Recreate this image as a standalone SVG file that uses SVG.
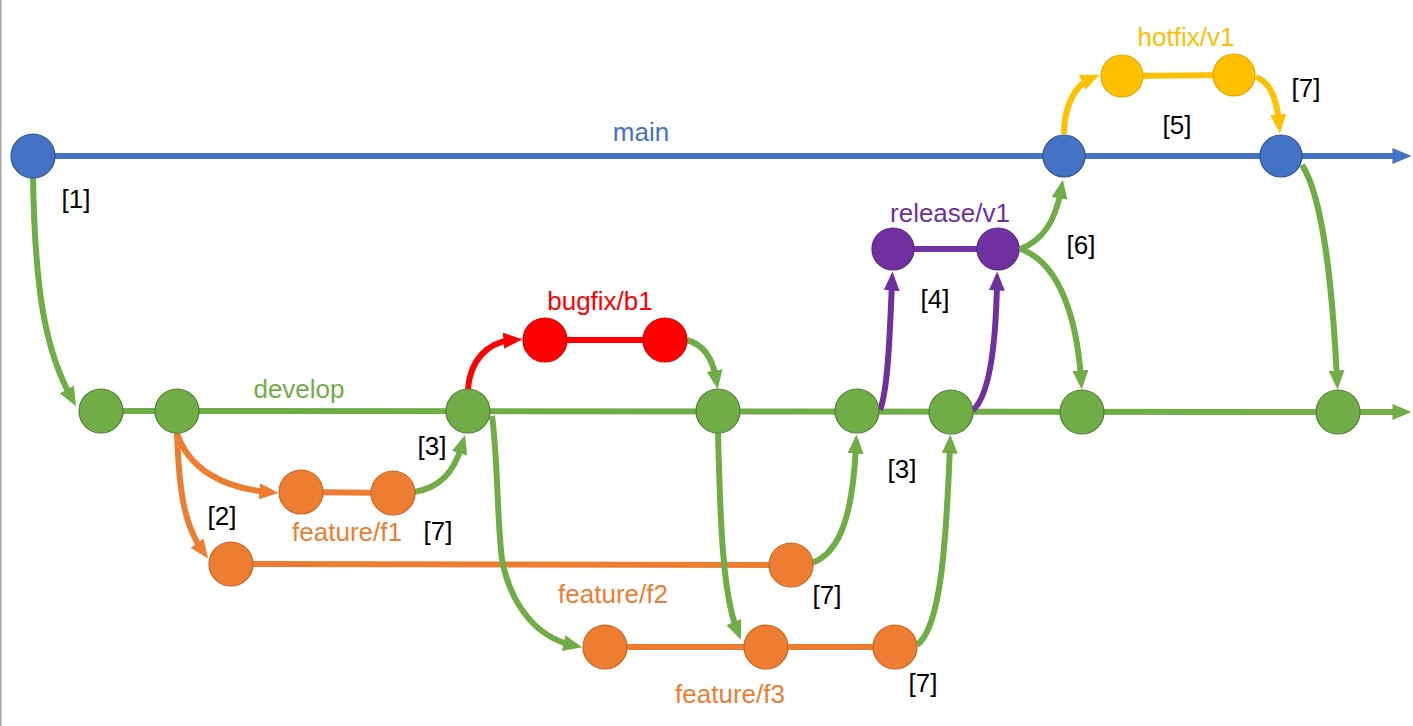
<svg xmlns="http://www.w3.org/2000/svg" width="1413" height="726" viewBox="0 0 1413 726">
<style>
.ln{fill:none;stroke-width:6;stroke-linecap:butt}
.b{stroke:#4472C4}.g{stroke:#70AD47}.o{stroke:#ED7D31}.r{stroke:#FF0000}.p{stroke:#7030A0}.y{stroke:#FFC000}
.nb{fill:#4472C4;stroke:#2F528F;stroke-width:1.2}
.ng{fill:#70AD47;stroke:#507E32;stroke-width:1.2}
.no{fill:#ED7D31;stroke:#C9651F;stroke-width:1.2}
.nr{fill:#FF0000;stroke:#D00000;stroke-width:1.2}
.np{fill:#7030A0;stroke:#5A2680;stroke-width:1.2}
.ny{fill:#FFC000;stroke:#E0A800;stroke-width:1.2}
text{font-family:"Liberation Sans",Arial,sans-serif;font-size:26px;text-anchor:middle}
.k{fill:#000}
</style>
<defs>
<marker id="ab" viewBox="0 0 10 10" preserveAspectRatio="none" refX="4.5" refY="5" markerWidth="19" markerHeight="16" markerUnits="userSpaceOnUse" orient="auto"><path d="M0,0L10,5L0,10z" fill="#4472C4"/></marker>
<marker id="ag" viewBox="0 0 10 10" preserveAspectRatio="none" refX="4.5" refY="5" markerWidth="19" markerHeight="16" markerUnits="userSpaceOnUse" orient="auto"><path d="M0,0L10,5L0,10z" fill="#70AD47"/></marker>
<marker id="ao" viewBox="0 0 10 10" preserveAspectRatio="none" refX="4.5" refY="5" markerWidth="19" markerHeight="16" markerUnits="userSpaceOnUse" orient="auto"><path d="M0,0L10,5L0,10z" fill="#ED7D31"/></marker>
<marker id="ar" viewBox="0 0 10 10" preserveAspectRatio="none" refX="4.5" refY="5" markerWidth="19" markerHeight="16" markerUnits="userSpaceOnUse" orient="auto"><path d="M0,0L10,5L0,10z" fill="#FF0000"/></marker>
<marker id="ap" viewBox="0 0 10 10" preserveAspectRatio="none" refX="4.5" refY="5" markerWidth="19" markerHeight="16" markerUnits="userSpaceOnUse" orient="auto"><path d="M0,0L10,5L0,10z" fill="#7030A0"/></marker>
<marker id="ay" viewBox="0 0 10 10" preserveAspectRatio="none" refX="4.5" refY="5" markerWidth="19" markerHeight="16" markerUnits="userSpaceOnUse" orient="auto"><path d="M0,0L10,5L0,10z" fill="#FFC000"/></marker>
</defs>
<rect x="0" y="0" width="1413" height="726" fill="#fff"/>
<line x1="0.75" y1="0" x2="0.75" y2="726" stroke="#a6a6a6" stroke-width="1.5"/>
<g id="connectors">
<path class="ln b" d="M55,156 L1401,156" marker-end="url(#ab)"/>
<path class="ln g" d="M101,411 L1401,412" marker-end="url(#ag)"/>
<path class="ln y" d="M1122,76 L1234,75"/>
<path class="ln p" d="M893,249 L998,249"/>
<path class="ln r" d="M545,340 L665,340"/>
<path class="ln o" d="M301,492 L393,493"/>
<path class="ln o" d="M231,564 L791,565"/>
<path class="ln o" d="M605,647 L895,647"/>
<path class="ln g" d="M33,178 C35,290 45,350 71,397" marker-end="url(#ag)"/>
<path class="ln o" d="M177,433 C188,468 222,488 268,492" marker-end="url(#ao)"/>
<path class="ln o" d="M177,433 C179,490 184,525 202,550" marker-end="url(#ao)"/>
<path class="ln g" d="M414,492 C440,488 454,472 462,445" marker-end="url(#ag)"/>
<path class="ln r" d="M468,389 C470,360 488,342 512,340" marker-end="url(#ar)"/>
<path class="ln g" d="M687,340 C705,345 713,360 716,379" marker-end="url(#ag)"/>
<path class="ln g" d="M492,416 C498,460 497,520 502,560 C512,610 540,638 572,645" marker-end="url(#ag)"/>
<path class="ln g" d="M718,433 C720,500 721,590 737,630" marker-end="url(#ag)"/>
<path class="ln g" d="M812,563 C842,552 853,510 856,445" marker-end="url(#ag)"/>
<path class="ln g" d="M917,645 C940,628 946,550 950,445" marker-end="url(#ag)"/>
<path class="ln p" d="M880,410 C888,390 890,330 892,282" marker-end="url(#ap)"/>
<path class="ln p" d="M973,410 C990,395 996,340 997,282" marker-end="url(#ap)"/>
<path class="ln g" d="M1020,249 C1045,240 1056,218 1061,190" marker-end="url(#ag)"/>
<path class="ln g" d="M1020,249 C1060,262 1077,320 1081,379" marker-end="url(#ag)"/>
<path class="ln y" d="M1064,134 C1064,108 1074,86 1090,79" marker-end="url(#ay)"/>
<path class="ln y" d="M1256,77 C1270,82 1277,100 1279,123" marker-end="url(#ay)"/>
<path class="ln g" d="M1302,165 C1325,200 1333,300 1337,379" marker-end="url(#ag)"/>
</g>
<g id="n-main0"><circle class="nb" cx="33" cy="156" r="22"/></g>
<g id="n-main1"><circle class="nb" cx="1064" cy="156" r="21"/></g>
<g id="n-main2"><circle class="nb" cx="1281" cy="156" r="21"/></g>
<g id="n-dev1"><circle class="ng" cx="101" cy="411" r="22"/></g>
<g id="n-dev2"><circle class="ng" cx="177" cy="411" r="22"/></g>
<g id="n-dev3"><circle class="ng" cx="468" cy="411" r="22"/></g>
<g id="n-dev4"><circle class="ng" cx="718" cy="411" r="22"/></g>
<g id="n-dev5"><circle class="ng" cx="857" cy="411" r="22"/></g>
<g id="n-dev6"><circle class="ng" cx="951" cy="412" r="22"/></g>
<g id="n-dev7"><circle class="ng" cx="1082" cy="412" r="22"/></g>
<g id="n-dev8"><circle class="ng" cx="1338" cy="412" r="22"/></g>
<g id="n-hot1"><circle class="ny" cx="1122" cy="76" r="21"/></g>
<g id="n-hot2"><circle class="ny" cx="1234" cy="75" r="21"/></g>
<g id="n-rel1"><circle class="np" cx="893" cy="249" r="21"/></g>
<g id="n-rel2"><circle class="np" cx="998" cy="249" r="21"/></g>
<g id="n-bug1"><circle class="nr" cx="545" cy="340" r="22"/></g>
<g id="n-bug2"><circle class="nr" cx="665" cy="340" r="22"/></g>
<g id="n-f1a"><circle class="no" cx="301" cy="492" r="22"/></g>
<g id="n-f1b"><circle class="no" cx="393" cy="493" r="22"/></g>
<g id="n-f2a"><circle class="no" cx="231" cy="564" r="22"/></g>
<g id="n-f2b"><circle class="no" cx="791" cy="565" r="22"/></g>
<g id="n-f3a"><circle class="no" cx="605" cy="647" r="22"/></g>
<g id="n-f3b"><circle class="no" cx="766" cy="647" r="22"/></g>
<g id="n-f3c"><circle class="no" cx="895" cy="647" r="22"/></g>
<g id="labels">
<text x="641" y="141" fill="#4472C4">main</text>
<text x="299" y="398" fill="#70AD47">develop</text>
<text x="600" y="310" fill="#FF0000">bugfix/b1</text>
<text x="950" y="222" fill="#7030A0">release/v1</text>
<text x="1186" y="46" fill="#FFC000">hotfix/v1</text>
<text x="347" y="541" fill="#ED7D31">feature/f1</text>
<text x="613" y="603" fill="#ED7D31">feature/f2</text>
<text x="730" y="703" fill="#ED7D31">feature/f3</text>
<text class="k" x="76" y="208">[1]</text>
<text class="k" x="222" y="525">[2]</text>
<text class="k" x="432" y="455">[3]</text>
<text class="k" x="902" y="478">[3]</text>
<text class="k" x="935" y="308">[4]</text>
<text class="k" x="1177" y="134">[5]</text>
<text class="k" x="1081" y="254">[6]</text>
<text class="k" x="1306" y="97">[7]</text>
<text class="k" x="438" y="540">[7]</text>
<text class="k" x="827" y="604">[7]</text>
<text class="k" x="923" y="692">[7]</text>
</g>
</svg>
